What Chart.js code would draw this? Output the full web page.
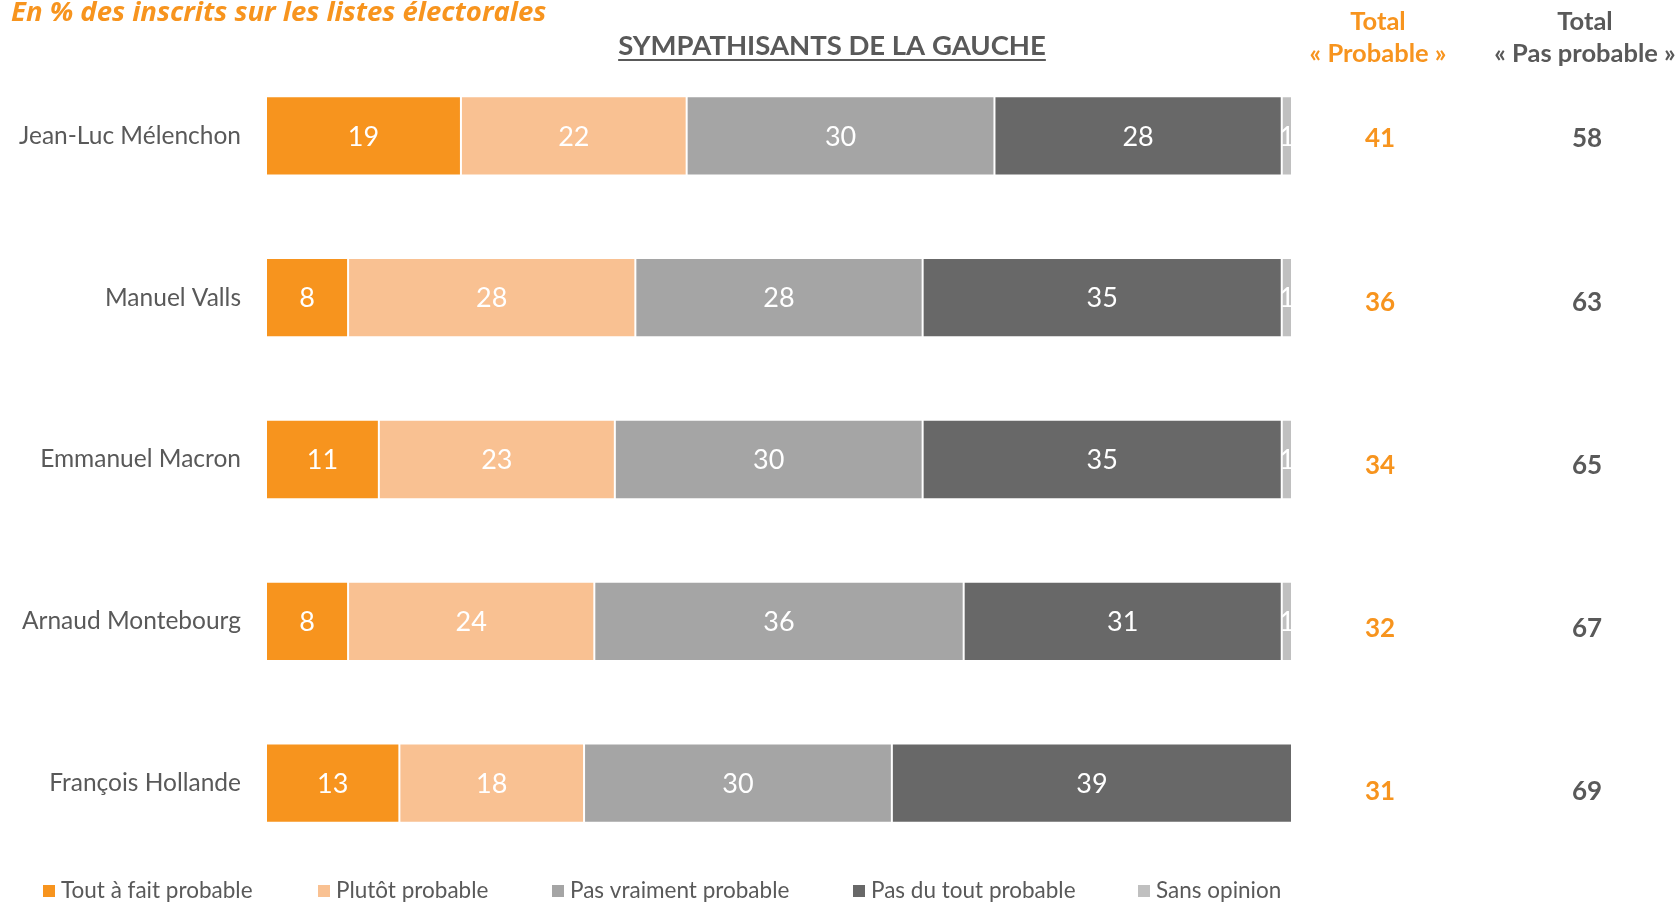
<!DOCTYPE html>
<html>
<head>
<meta charset="utf-8">
<script src="https://cdn.jsdelivr.net/npm/chart.js@4.4.1/dist/chart.umd.min.js"></script>
<style>
  html, body { margin: 0; padding: 0; background: #ffffff; }
  #wrap { position: relative; width: 1680px; height: 903px; }
  canvas { display: block; }
</style>
</head>
<body>
<div id="wrap"><canvas id="c" width="1680" height="903"></canvas></div>
<script>
// ---- Data ----
const candidates = ["Jean-Luc Mélenchon", "Manuel Valls", "Emmanuel Macron", "Arnaud Montebourg", "François Hollande"];
const seriesNames = ["Tout à fait probable", "Plutôt probable", "Pas vraiment probable", "Pas du tout probable", "Sans opinion"];
const toutAFait   = [19, 8, 11, 8, 13];
const plutot      = [22, 28, 23, 24, 18];
const pasVraiment = [30, 28, 30, 36, 30];
const pasDuTout   = [28, 35, 35, 31, 39];
const sansOpinion = [1, 1, 1, 1, 0];
const totalProbable    = [41, 36, 34, 32, 31];
const totalPasProbable = [58, 63, 65, 67, 69];
const titleText = "SYMPATHISANTS DE LA GAUCHE";
const subtitleText = "En % des inscrits sur les listes électorales";
const headerProbable = ["Total", "« Probable »"];
const headerPasProbable = ["Total", "« Pas probable »"];

// ---- Styles ----
const colors = ["#F7941E", "#F9C192", "#A5A5A5", "#686868", "#C0C0C0"];
const ORANGE = "#F7941E";
const GREY_TXT = "#595959";
const FONT = "Lato, 'Open Sans', sans-serif";

const seriesValues = [toutAFait, plutot, pasVraiment, pasDuTout, sansOpinion];

const datasets = seriesNames.map((name, i) => ({
  label: name,
  data: seriesValues[i],
  backgroundColor: colors[i],
  borderColor: "#ffffff",
  borderWidth: 1,
  borderSkipped: false,
  categoryPercentage: 1.0,
  barPercentage: 0.49
}));

const overlay = {
  id: "overlay",
  afterDatasetsDraw(chart) {
    const ctx = chart.ctx;
    ctx.save();
    ctx.fillStyle = "#ffffff";
    ctx.font = "27px " + FONT;
    ctx.textAlign = "center";
    ctx.textBaseline = "middle";
    chart.data.datasets.forEach((ds, di) => {
      const meta = chart.getDatasetMeta(di);
      meta.data.forEach((bar, j) => {
        const v = ds.data[j];
        if (!v) return;
        const cx = (bar.x + bar.base) / 2;
        ctx.fillText(String(v), cx, bar.y + 1);
      });
    });
    ctx.restore();
  },
  afterDraw(chart) {
    const ctx = chart.ctx;
    const yScale = chart.scales.y;
    ctx.save();
    // subtitle
    ctx.font = "italic bold 27.5px 'Open Sans', Lato, sans-serif";
    ctx.fillStyle = ORANGE;
    ctx.textAlign = "left";
    ctx.textBaseline = "alphabetic";
    ctx.fillText(subtitleText, 11, 21);

    // title with underline
    ctx.font = "bold 27.5px " + FONT;
    ctx.fillStyle = GREY_TXT;
    ctx.textAlign = "center";
    ctx.fillText(titleText, 832, 55);
    const tw = ctx.measureText(titleText).width;
    ctx.fillRect(832 - tw / 2, 59, tw, 2);

    // column headers
    ctx.font = "bold 25.5px " + FONT;
    ctx.fillStyle = ORANGE;
    ctx.fillText(headerProbable[0], 1378, 30);
    ctx.fillText(headerProbable[1], 1378, 62);
    ctx.fillStyle = GREY_TXT;
    ctx.fillText(headerPasProbable[0], 1585, 30);
    ctx.fillText(headerPasProbable[1], 1585, 62);

    // totals
    ctx.font = "bold 26px " + FONT;
    ctx.textBaseline = "middle";
    candidates.forEach((c, i) => {
      const y = yScale.getPixelForValue(i) + 3 + 1.5 * i;
      ctx.fillStyle = ORANGE;
      ctx.fillText(String(totalProbable[i]), 1380, y);
      ctx.fillStyle = GREY_TXT;
      ctx.fillText(String(totalPasProbable[i]), 1587, y);
    });

    // legend
    const legendX = [43, 318, 552, 853, 1138];
    const ly = 891;
    ctx.font = "22.5px " + FONT;
    ctx.textAlign = "left";
    ctx.textBaseline = "middle";
    chart.data.datasets.forEach((ds, i) => {
      ctx.fillStyle = ds.backgroundColor;
      ctx.fillRect(legendX[i], ly - 6, 12, 12);
      ctx.fillStyle = GREY_TXT;
      ctx.fillText(ds.label, legendX[i] + 18, ly);
    });
    ctx.restore();
  }
};

new Chart(document.getElementById("c"), {
  type: "bar",
  data: { labels: candidates, datasets },
  options: {
    indexAxis: "y",
    responsive: false,
    animation: false,
    layout: { padding: { left: 0, right: 388, top: 55, bottom: 39 } },
    plugins: {
      legend: { display: false },
      title: { display: false },
      tooltip: { enabled: false }
    },
    scales: {
      x: { stacked: true, min: 0, max: 100, display: false },
      y: {
        stacked: true,
        grid: { display: false },
        border: { display: false },
        ticks: { color: GREY_TXT, font: { family: FONT, size: 24.5 }, padding: 17 },
        afterFit(scale) { scale.width = 266; }
      }
    }
  },
  plugins: [overlay]
});
</script>
</body>
</html>
